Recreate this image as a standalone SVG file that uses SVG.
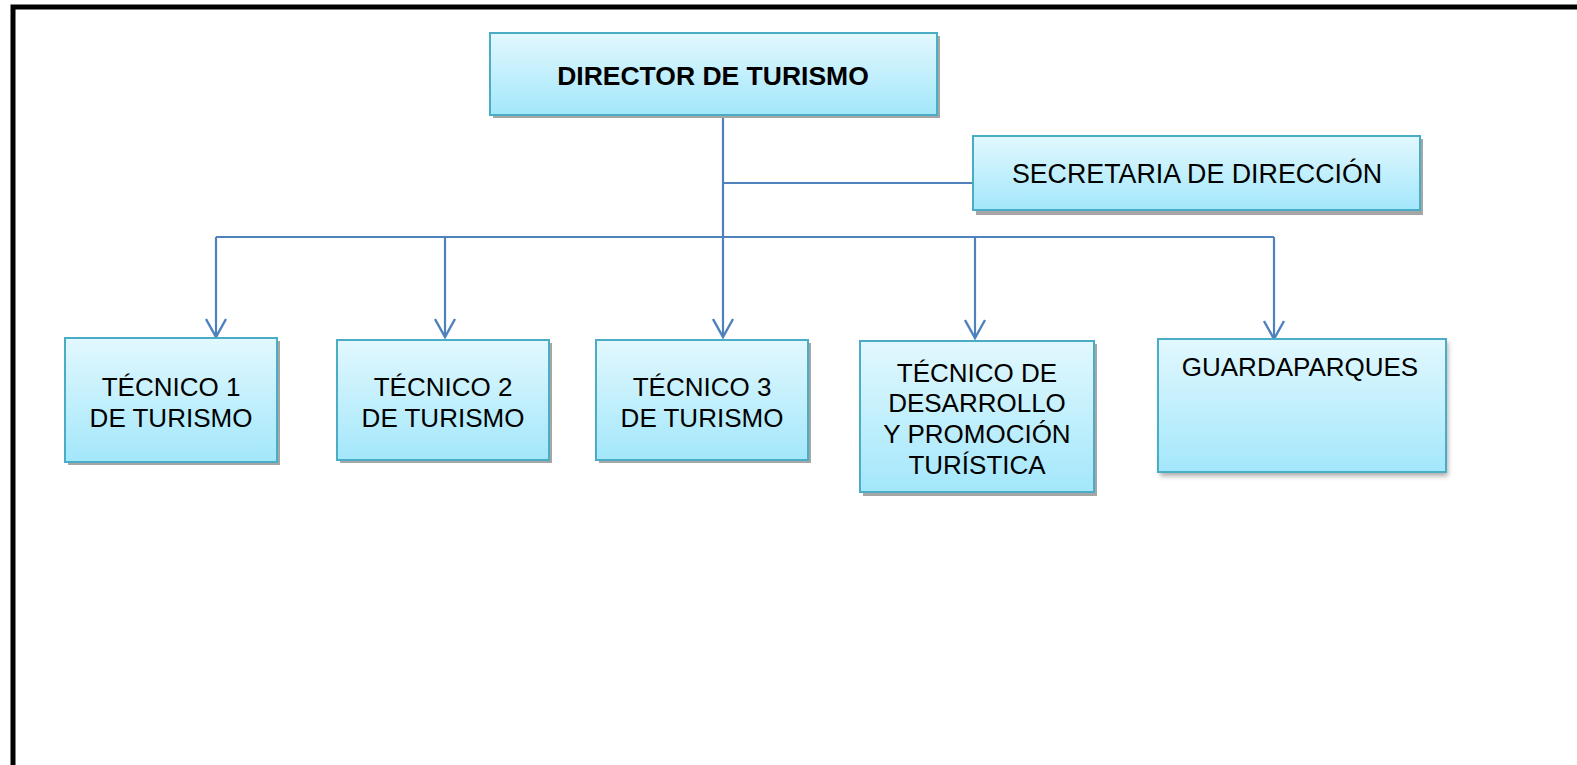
<svg xmlns="http://www.w3.org/2000/svg" width="1577" height="765" viewBox="0 0 1577 765">
<style>
.box{fill:url(#g);stroke:#4BACC6;stroke-width:2}
.sh{fill:#A6A6A6}
.t{font-family:"Liberation Sans",Arial,sans-serif;font-size:26px;fill:#000;text-anchor:middle}
.b{font-weight:bold;font-size:26.5px}
.s{font-size:26.8px}
.c{fill:none;stroke:#4F81BD;stroke-width:2.2}
</style>
<defs>
<linearGradient id="g" x1="0" y1="0" x2="0" y2="1">
<stop offset="0" stop-color="#E2F8FE"/>
<stop offset="1" stop-color="#A3E7FB"/>
</linearGradient>
<filter id="blur" x="-10%" y="-10%" width="130%" height="130%">
<feGaussianBlur stdDeviation="2.5"/>
</filter>
<marker id="ar" markerWidth="26" markerHeight="22" refX="11" refY="19" orient="0" markerUnits="userSpaceOnUse">
<path d="M1,1 L11,19 L21,1" fill="none" stroke="#4F81BD" stroke-width="2.4"/>
</marker>
</defs>
<rect width="1577" height="765" fill="#fff"/>
<path d="M13,770 L13,7 L1580,7" fill="none" stroke="#000" stroke-width="5"/>

<g id="connectors">
<path class="c" d="M723,115 L723,337" marker-end="url(#ar)"/>
<path class="c" d="M723,183 L973,183"/>
<path class="c" d="M216,237 L1274,237"/>
<path class="c" d="M216,237 L216,337" marker-end="url(#ar)"/>
<path class="c" d="M445,237 L445,337" marker-end="url(#ar)"/>
<path class="c" d="M975,237 L975,338" marker-end="url(#ar)"/>
<path class="c" d="M1274,237 L1274,339" marker-end="url(#ar)"/>
</g>

<g id="director">
<rect class="sh" x="493" y="36" width="447" height="82"/>
<rect class="box" x="490" y="33" width="447" height="82"/>
<text class="t b" x="713" y="85">DIRECTOR DE TURISMO</text>
</g>

<g id="secretaria">
<rect class="sh" x="976" y="139" width="447" height="76"/>
<rect class="box" x="973" y="136" width="447" height="74"/>
<text class="t s" x="1197" y="183">SECRETARIA DE DIRECCIÓN</text>
</g>

<g id="tecnico1">
<rect class="sh" x="68" y="341" width="212" height="124"/>
<rect class="box" x="65" y="338" width="212" height="124"/>
<text class="t" x="171" y="396">TÉCNICO 1</text>
<text class="t" x="171" y="427">DE TURISMO</text>
</g>

<g id="tecnico2">
<rect class="sh" x="340" y="343" width="212" height="120"/>
<rect class="box" x="337" y="340" width="212" height="120"/>
<text class="t" x="443" y="396">TÉCNICO 2</text>
<text class="t" x="443" y="427">DE TURISMO</text>
</g>

<g id="tecnico3">
<rect class="sh" x="599" y="343" width="212" height="120"/>
<rect class="box" x="596" y="340" width="212" height="120"/>
<text class="t" x="702" y="396">TÉCNICO 3</text>
<text class="t" x="702" y="427">DE TURISMO</text>
</g>

<g id="tecnico-desarrollo">
<rect class="sh" x="863" y="344" width="234" height="152"/>
<rect class="box" x="860" y="341" width="234" height="151"/>
<text class="t" x="977" y="382">TÉCNICO DE</text>
<text class="t" x="977" y="412">DESARROLLO</text>
<text class="t" x="977" y="443">Y PROMOCIÓN</text>
<text class="t" x="977" y="474">TURÍSTICA</text>
</g>

<g id="guardaparques">
<rect x="1160" y="342" width="288" height="134" fill="#888" filter="url(#blur)" opacity="0.7"/>
<rect class="box" x="1158" y="339" width="288" height="133"/>
<text class="t" x="1300" y="376">GUARDAPARQUES</text>
</g>
</svg>
